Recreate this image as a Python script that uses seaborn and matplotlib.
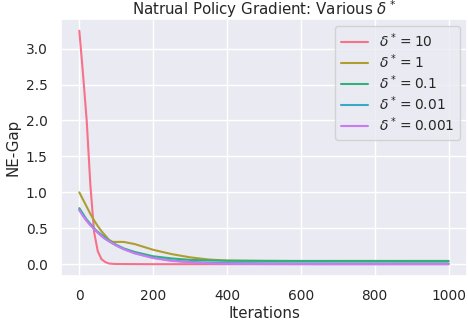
import numpy as np
import pandas as pd
import matplotlib
matplotlib.use("Agg")
import matplotlib.pyplot as plt
import seaborn as sns

# ---------------- DATA ---------------- #

iterations = [0, 10, 20, 30, 40, 50, 60, 70, 80, 90, 100, 120, 150, 200,
              250, 300, 350, 400, 500, 600, 700, 800, 900, 1000]

delta_labels = [r"$\delta^*=10$", r"$\delta^*=1$", r"$\delta^*=0.1$",
                r"$\delta^*=0.01$", r"$\delta^*=0.001$"]

gap_10 = [3.25, 2.65, 2.0, 1.1, 0.45, 0.18, 0.07, 0.03, 0.01, 0.005, 0.003, 0.002,
          0.001, 0.0, 0.0, 0.0, 0.0, 0.0, 0.0, 0.0, 0.0, 0.0, 0.0, 0.0]
gap_1 = [1.0, 0.9, 0.8, 0.7, 0.61, 0.53, 0.46, 0.40, 0.34, 0.31, 0.31, 0.31,
         0.28, 0.2, 0.14, 0.095, 0.065, 0.05, 0.045, 0.043, 0.042, 0.041, 0.04, 0.04]
gap_01 = [0.78, 0.70, 0.62, 0.56, 0.50, 0.45, 0.41, 0.37, 0.33, 0.30, 0.27, 0.22,
          0.17, 0.11, 0.08, 0.06, 0.052, 0.048, 0.046, 0.045, 0.045, 0.045, 0.045, 0.045]
gap_001 = [0.76, 0.68, 0.61, 0.55, 0.49, 0.44, 0.40, 0.36, 0.32, 0.29, 0.26, 0.21,
           0.155, 0.09, 0.052, 0.032, 0.02, 0.015, 0.012, 0.011, 0.01, 0.01, 0.01, 0.01]
gap_0001 = [0.75, 0.67, 0.60, 0.54, 0.49, 0.44, 0.39, 0.35, 0.32, 0.29, 0.26, 0.21,
            0.15, 0.085, 0.045, 0.025, 0.012, 0.006, 0.002, 0.001, 0.0, 0.0, 0.0, 0.0]

series = [gap_10, gap_1, gap_01, gap_001, gap_0001]

rows = []
for label, vals in zip(delta_labels, series):
    for it, v in zip(iterations, vals):
        rows.append({"Iterations": it, "NE-Gap": v, "delta": label})
df = pd.DataFrame(rows)

# ---------------- PLOT ---------------- #

sns.set_theme(style="darkgrid", font_scale=0.9)

fig, ax = plt.subplots(figsize=(4.68, 3.28), dpi=100)
sns.lineplot(data=df, x="Iterations", y="NE-Gap", hue="delta",
             hue_order=delta_labels, palette="husl", linewidth=1.5, ax=ax)

ax.set_title(r"Natrual Policy Gradient: Various $\delta^*$", pad=3)
ax.set_xlabel("Iterations", labelpad=2)
ax.set_ylabel("NE-Gap")
ax.legend(loc="upper right", title=None, labelspacing=0.18)

fig.subplots_adjust(left=0.130, right=0.998, top=0.942, bottom=0.159)
plt.savefig("out.png", dpi=100)
plt.close()
